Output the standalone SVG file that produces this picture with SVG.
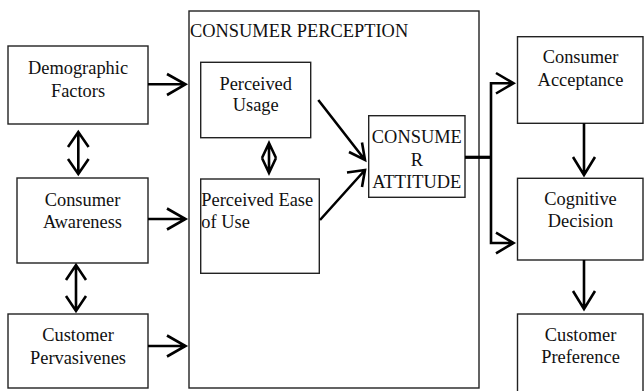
<svg xmlns="http://www.w3.org/2000/svg" width="644" height="391" viewBox="0 0 644 391">
<style>
.box{fill:#fff;stroke:#222;stroke-width:1.4}
.t{font-family:"Liberation Serif","Times New Roman",serif;font-size:18.4px;fill:#111}
.c{text-anchor:middle}
.ln{fill:none;stroke:#000;stroke-width:2.6;stroke-linejoin:miter}
</style>
<rect width="644" height="391" fill="#fff"/>
<g id="consumer-perception">
<rect class="box" x="189" y="11" width="290" height="377"/>
<text class="t" x="190" y="37">CONSUMER PERCEPTION</text>
</g>
<g id="demographic-factors">
<rect class="box" x="8" y="46" width="140" height="78"/>
<text class="t c" x="78" y="74">Demographic</text>
<text class="t c" x="78" y="97">Factors</text>
</g>
<g id="consumer-awareness">
<rect class="box" x="17" y="178" width="131" height="85"/>
<text class="t c" x="82.5" y="206">Consumer</text>
<text class="t c" x="82.5" y="227.5">Awareness</text>
</g>
<g id="customer-pervasivenes">
<rect class="box" x="8" y="314" width="140" height="74"/>
<text class="t c" x="78" y="341">Customer</text>
<text class="t c" x="78" y="363.5">Pervasivenes</text>
</g>
<g id="perceived-usage">
<rect class="box" x="200.7" y="62.3" width="110" height="75.4"/>
<text class="t c" x="255.7" y="90">Perceived</text>
<text class="t c" x="255.7" y="111">Usage</text>
</g>
<g id="perceived-ease">
<rect class="box" x="200.7" y="179" width="118.6" height="94.3"/>
<text class="t" x="201.3" y="206">Perceived Ease</text>
<text class="t" x="201.3" y="227.7">of Use</text>
</g>
<g id="consumer-attitude">
<rect class="box" x="368.7" y="115.7" width="96.3" height="81.6"/>
<text class="t c" x="416.8" y="143.3">CONSUME</text>
<text class="t c" x="416.8" y="165.7">R</text>
<text class="t c" x="416.8" y="188.3">ATTITUDE</text>
</g>
<g id="consumer-acceptance">
<rect class="box" x="517.5" y="36.7" width="125.5" height="86.6"/>
<text class="t c" x="580.5" y="63.3">Consumer</text>
<text class="t c" x="580.5" y="86">Acceptance</text>
</g>
<g id="cognitive-decision">
<rect class="box" x="517.5" y="178.3" width="125.5" height="81.7"/>
<text class="t c" x="580.5" y="205">Cognitive</text>
<text class="t c" x="580.5" y="226.7">Decision</text>
</g>
<g id="customer-preference">
<rect class="box" x="517.5" y="314" width="125.5" height="85"/>
<text class="t c" x="580.5" y="340.7">Customer</text>
<text class="t c" x="580.5" y="363.3">Preference</text>
</g>
<g id="connectors">
<!-- left to perception -->
<path class="ln" d="M148,84.3 H185.5 M167,74 L185.5,84.3 L167,95"/>
<path class="ln" d="M148,219 H185.5 M167,208.5 L185.5,219 L167,229.5"/>
<path class="ln" d="M148,346 H185.5 M167,335.5 L185.5,346 L167,356.5"/>
<!-- double arrows left -->
<path class="ln" d="M78.3,132 V174 M68,147 L78.3,132 L88.6,147 M68,159 L78.3,174 L88.6,159"/>
<path class="ln" d="M76,265 V311 M66,280 L76,265 L86,280 M66,296 L76,311 L86,296"/>
<!-- diamond double arrow -->
<path class="ln" d="M269,143 V173 M262,158 L269,143 L276,158 M262,158 L269,173 L276,158"/>
<!-- diagonal arrows -->
<path class="ln" d="M318.3,100 L365,160 M349,152 L365,160 L362,142.5"/>
<path class="ln" d="M320,220 L365,170 M347,172.5 L365,170 L362,187"/>
<!-- branch -->
<path class="ln" d="M465,157.3 H491" style="stroke-width:3.2"/>
<path class="ln" d="M513.5,83.3 H491 V243 H513.5 M496,73 L513.5,83.3 L496,93.5 M496,232.7 L513.5,243 L496,253.3"/>
<!-- down arrows -->
<path class="ln" d="M584,123.3 V175 M573,157 L584,175 L595,157"/>
<path class="ln" d="M584,260 V309 M573,291 L584,309 L595,291"/>
</g>
</svg>
